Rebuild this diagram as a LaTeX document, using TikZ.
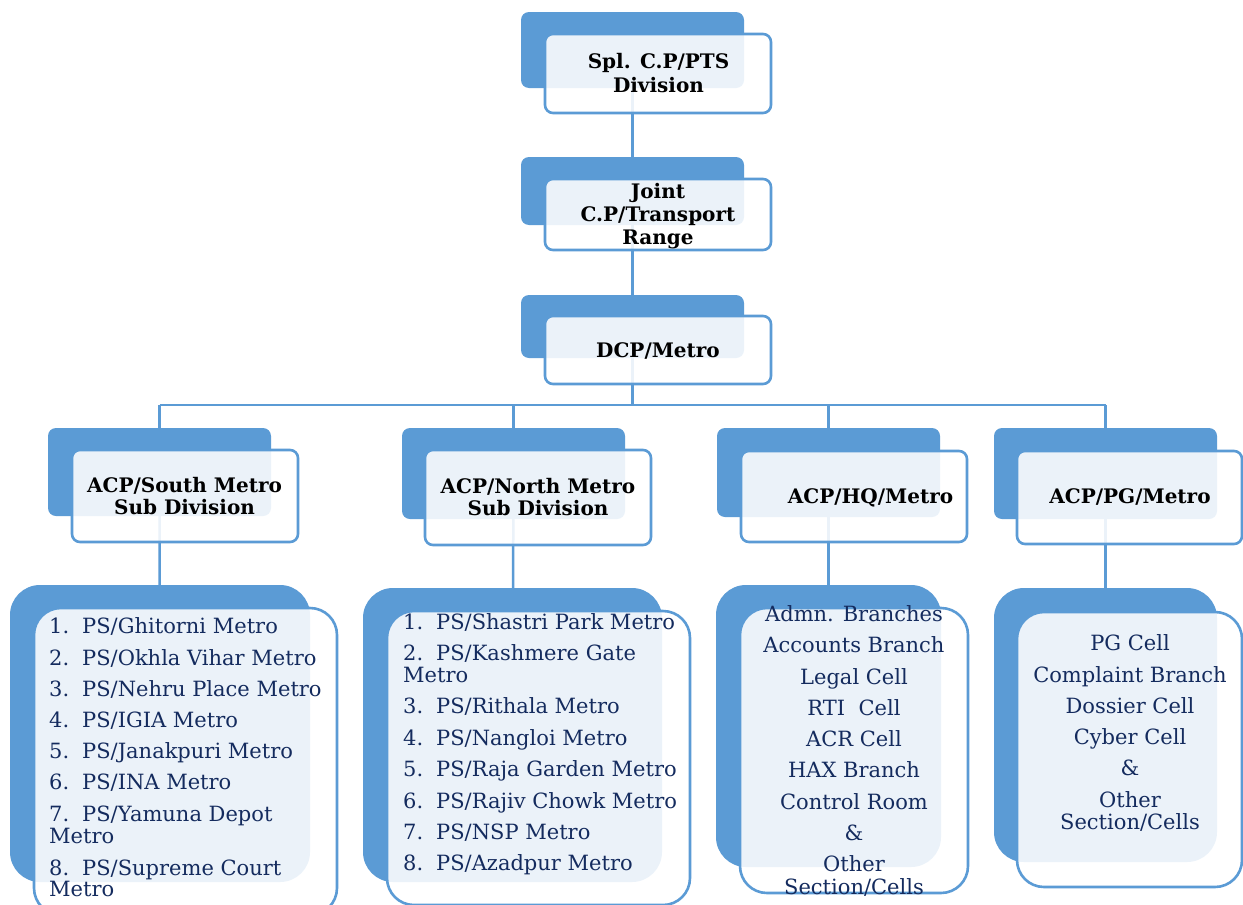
\documentclass[tikz,border=0pt]{standalone}
\usepackage{fontspec}
\setmainfont{DejaVu Serif}
\definecolor{mblue}{HTML}{5B9BD5}
\definecolor{navy}{HTML}{142B5E}
\pgfdeclarelayer{bg}
\pgfsetlayers{bg,main}
\begin{document}
\begin{tikzpicture}[x=1pt,y=-1pt,
  back/.style={rectangle, fill=mblue, rounded corners=8pt, inner sep=0pt, outer sep=0pt},
  front/.style={rectangle, draw=mblue, line width=2.6pt, fill=white, fill opacity=0.88, text opacity=1, rounded corners=8pt, inner sep=0pt, outer sep=0pt},
  bigback/.style={back, rounded corners=30pt},
  bigfront/.style={front, rounded corners=27pt},
  conn/.style={draw=mblue, line width=2.5pt},
  hdr/.style={font=\bfseries\fontsize{20}{22}\selectfont, text=black, anchor=base, inner sep=0pt},
  item/.style={font=\fontsize{21}{22}\selectfont, text=navy, anchor=base west, inner sep=0pt},
  citem/.style={font=\fontsize{21}{22}\selectfont, text=navy, anchor=base, inner sep=0pt}]
\useasboundingbox (0,0) rectangle (1243,905);
\clip (0,0) rectangle (1243,905);

% level 0-2
\node[back, minimum width=223pt, minimum height=76pt] (aB) at (632.5,50) {};
\node[front, minimum width=226pt, minimum height=79pt] (aF) at (658,73.5) {};
\node[back, minimum width=223pt, minimum height=68pt] (bB) at (632.5,191) {};
\node[front, minimum width=226pt, minimum height=71pt] (bF) at (658,214.5) {};
\node[back, minimum width=223pt, minimum height=63pt] (cB) at (632.5,326.5) {};
\node[front, minimum width=226pt, minimum height=68pt] (cF) at (658,350) {};

% level 3
\node[back, minimum width=223pt, minimum height=88pt] (c1B) at (159.5,472) {};
\node[front, minimum width=226pt, minimum height=92pt] (c1F) at (185,496) {};
\node[back, minimum width=223pt, minimum height=91pt] (c2B) at (513.5,473.5) {};
\node[front, minimum width=226pt, minimum height=95pt] (c2F) at (538,497.5) {};
\node[back, minimum width=223pt, minimum height=89pt] (c3B) at (828.5,472.5) {};
\node[front, minimum width=226pt, minimum height=91pt] (c3F) at (854,496.5) {};
\node[back, minimum width=223pt, minimum height=91pt] (c4B) at (1105.5,473.5) {};
\node[front, minimum width=225pt, minimum height=93pt] (c4F) at (1129.5,497.5) {};

% level 4
\node[bigback, minimum width=300pt, minimum height=297pt] (d1B) at (160,733.5) {};
\node[bigfront, minimum width=303pt, minimum height=307pt] (d1F) at (185.5,761.5) {};
\node[bigback, minimum width=299pt, minimum height=294pt] (d2B) at (512.5,735) {};
\node[bigfront, minimum width=303pt, minimum height=294pt] (d2F) at (538.5,758) {};
\node[bigback, minimum width=225pt, minimum height=282pt] (d3B) at (828.5,726) {};
\node[bigfront, minimum width=228pt, minimum height=285pt] (d3F) at (854,750.5) {};
\node[bigback, minimum width=223pt, minimum height=274pt] (d4B) at (1105.5,725) {};
\node[bigfront, minimum width=225pt, minimum height=275pt] (d4F) at (1129.5,749.5) {};

\begin{pgfonlayer}{bg}
\fill[white] (0,0) rectangle (1243,905);
\coordinate (bus) at (0,405);
\draw[conn] (aB.center) -- (bB.center);
\draw[conn] (bB.center) -- (cB.center);
\draw[conn] (cB.center) -- (cB.center |- bus);
\draw[conn] (c1B.center |- bus) -- (c4B.center |- bus);
\draw[conn] (c1B.center |- bus) -- (c1B.center);
\draw[conn] (c2B.center |- bus) -- (c2B.center);
\draw[conn] (c3B.center |- bus) -- (c3B.center);
\draw[conn] (c4B.center |- bus) -- (c4B.center);
\draw[conn] (c1B.center) -- (d1B.center);
\draw[conn] (c2B.center) -- (d2B.center);
\draw[conn] (c3B.center) -- (d3B.center);
\draw[conn] (c4B.center) -- (d4B.center);
\end{pgfonlayer}

% header texts
\node[hdr] (ta1) at (658.5,68) {Spl. C.P/PTS};
\node[hdr] (ta2) at (658.5,92) {Division};
\node[hdr] (tb1) at (658,198) {Joint};
\node[hdr] (tb2) at (658,221) {C.P/Transport};
\node[hdr] (tb3) at (658,244) {Range};
\node[hdr] (tc1) at (658,357) {DCP/Metro};
\node[hdr] (t11) at (184.5,492) {ACP/South Metro};
\node[hdr] (t12) at (184.5,514) {Sub Division};
\node[hdr] (t21) at (538,493) {ACP/North Metro};
\node[hdr] (t22) at (538,515) {Sub Division};
\node[hdr] (t31) at (870.5,503) {ACP/HQ/Metro};
\node[hdr] (t41) at (1130,503) {ACP/PG/Metro};

% list 1
\node[item] (n11) at (49,633) {1.}; \node[item] (s11) at (82,633) {PS/Ghitorni Metro};
\node[item] (n12) at (49,665) {2.}; \node[item] (s12) at (82,665) {PS/Okhla Vihar Metro};
\node[item] (n13) at (49,696) {3.}; \node[item] (s13) at (82,696) {PS/Nehru Place Metro};
\node[item] (n14) at (49,727) {4.}; \node[item] (s14) at (82,727) {PS/IGIA Metro};
\node[item] (n15) at (49,758) {5.}; \node[item] (s15) at (82,758) {PS/Janakpuri Metro};
\node[item] (n16) at (49,789) {6.}; \node[item] (s16) at (82,789) {PS/INA Metro};
\node[item] (n17) at (49,821) {7.}; \node[item] (s17) at (82,821) {PS/Yamuna Depot};
\node[item] (w17) at (49,843) {Metro};
\node[item] (n18) at (49,875) {8.}; \node[item] (s18) at (82,875) {PS/Supreme Court};
\node[item] (w18) at (49,896) {Metro};

% list 2
\node[item] (n21) at (403,629) {1.}; \node[item] (s21) at (436,629) {PS/Shastri Park Metro};
\node[item] (n22) at (403,660) {2.}; \node[item] (s22) at (436,660) {PS/Kashmere Gate};
\node[item] (w22) at (403,682) {Metro};
\node[item] (n23) at (403,713) {3.}; \node[item] (s23) at (436,713) {PS/Rithala Metro};
\node[item] (n24) at (403,745) {4.}; \node[item] (s24) at (436,745) {PS/Nangloi Metro};
\node[item] (n25) at (403,776) {5.}; \node[item] (s25) at (436,776) {PS/Raja Garden Metro};
\node[item] (n26) at (403,808) {6.}; \node[item] (s26) at (436,808) {PS/Rajiv Chowk Metro};
\node[item] (n27) at (403,839) {7.}; \node[item] (s27) at (436,839) {PS/NSP Metro};
\node[item] (n28) at (403,870) {8.}; \node[item] (s28) at (436,870) {PS/Azadpur Metro};

% list 3
\node[citem] (h1) at (854,621) {Admn. Branches};
\node[citem] (h2) at (854,652) {Accounts Branch};
\node[citem] (h3) at (854,684) {Legal Cell};
\node[citem] (h4) at (854,715) {RTI~~Cell};
\node[citem] (h5) at (854,746) {ACR Cell};
\node[citem] (h6) at (854,777) {HAX Branch};
\node[citem] (h7) at (854,809) {Control Room};
\node[citem] (h8) at (854,840) {\&};
\node[citem] (h9) at (854,871) {Other};
\node[citem] (h10) at (854,894) {Section/Cells};

% list 4
\node[citem] (p1) at (1130,650) {PG Cell};
\node[citem] (p2) at (1130,682) {Complaint Branch};
\node[citem] (p3) at (1130,713) {Dossier Cell};
\node[citem] (p4) at (1130,744) {Cyber Cell};
\node[citem] (p5) at (1130,775) {\&};
\node[citem] (p6) at (1130,807) {Other};
\node[citem] (p7) at (1130,829) {Section/Cells};
\end{tikzpicture}
\end{document}
